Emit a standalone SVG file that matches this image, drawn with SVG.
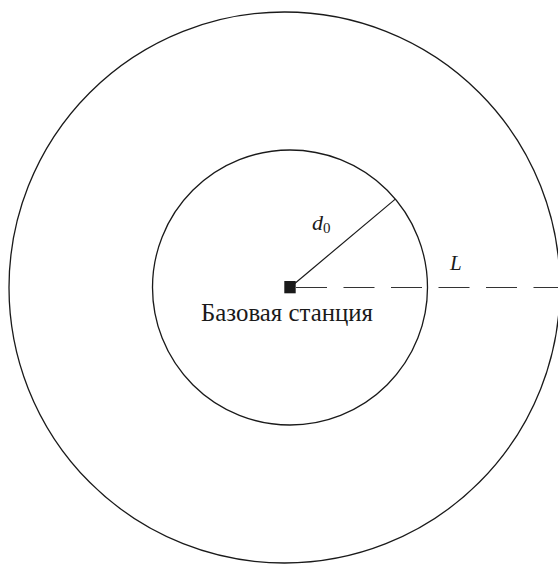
<svg xmlns="http://www.w3.org/2000/svg" width="558" height="564" viewBox="0 0 558 564">
<style>
.c{fill:none;stroke:#1a1a1a;stroke-width:1.3}
.ln{fill:none;stroke:#1a1a1a;stroke-width:1.2}
.dash{fill:none;stroke:#333;stroke-width:1.2;stroke-dasharray:31 16.5}
.t{font-family:"Liberation Serif","Times New Roman",serif;fill:#1a1a1a}
.i{font-style:italic}
</style>
<rect width="558" height="564" fill="#fff"/>
<g id="outer-circle"><circle class="c" cx="284.5" cy="287.5" r="275.5"/></g>
<g id="inner-circle"><circle class="c" cx="290" cy="287.5" r="137.5"/></g>
<g id="connectors">
<line class="ln" x1="290" y1="287.5" x2="395.3" y2="199.1"/>
<line class="dash" x1="296" y1="287.5" x2="558" y2="287.5"/>
</g>
<g id="base-station">
<rect x="284.3" y="281" width="11.4" height="12.3" fill="#1a1a1a"/>
<text class="t" x="201" y="321" font-size="24.5" textLength="172" lengthAdjust="spacingAndGlyphs">Базовая станция</text>
</g>
<g id="label-d0"><text class="t i" x="312" y="230" font-size="22">d<tspan font-style="normal" font-size="15" dy="3">0</tspan></text></g>
<g id="label-L"><text class="t i" x="450" y="270" font-size="21">L</text></g>
</svg>
